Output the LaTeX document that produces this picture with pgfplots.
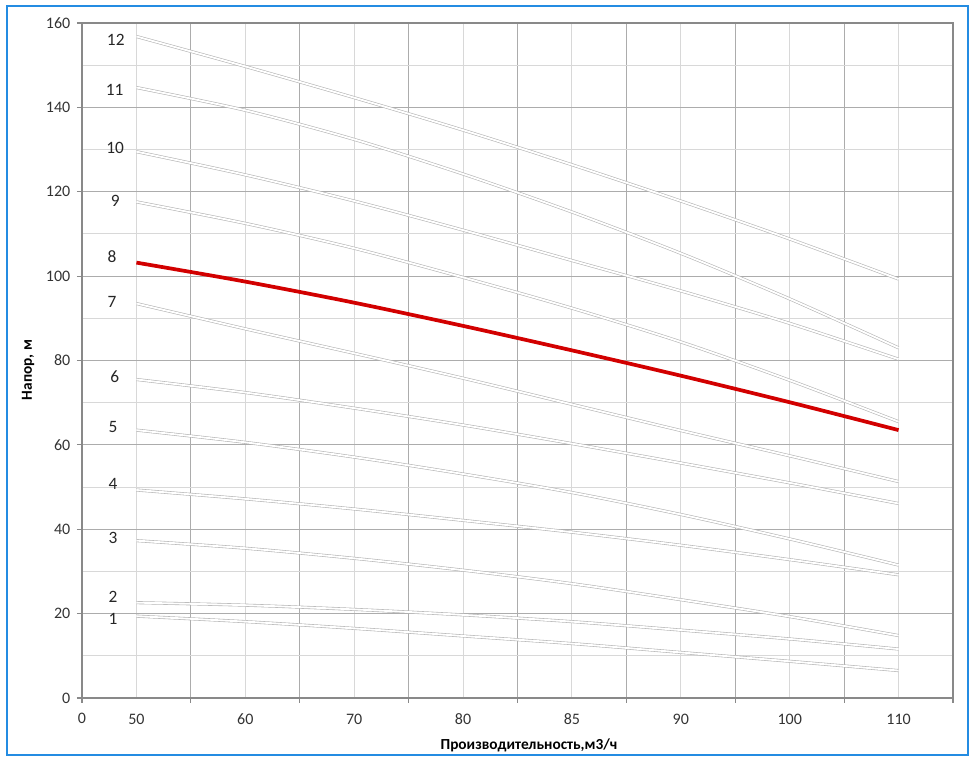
\documentclass[border=0pt]{standalone}
\usepackage{fontspec}
\setmainfont{Carlito}
\usepackage{pgfplots}
\pgfplotsset{compat=1.18}
\definecolor{majgrid}{RGB}{172,172,172}
\definecolor{mingrid}{RGB}{216,216,216}
\definecolor{axisgray}{RGB}{137,137,137}
\definecolor{curvegray}{RGB}{180,180,180}
\definecolor{redline}{RGB}{210,0,0}
\definecolor{frameblue}{RGB}{36,140,226}
\pgfplotsset{
  pump/.style={smooth, tension=0.5, draw=curvegray, line width=0.45pt, double=white, double distance=1.4pt, mark=none},
}
\begin{document}
\begin{tikzpicture}
\useasboundingbox (-61.5pt,-48.75pt) rectangle (671.25pt,523.5pt);
\draw[frameblue, line width=1.6pt] (-56.25pt,-42.75pt) rectangle (664.5pt,519pt);
\begin{axis}[
  at={(0pt,0pt)}, anchor=south west,
  scale only axis, width=653.25pt, height=506.25pt,
  xmin=0, xmax=16, ymin=0, ymax=160,
  xtick={0,2,...,16}, xticklabels={0,,,,,,,,},
  minor xtick={1,3,...,15},
  xticklabel style={yshift=-4pt},
  extra x ticks={1,3,5,7,9,11,13,15},
  extra x tick labels={50,60,70,80,85,90,100,110},
  extra x tick style={grid=none, major tick length=0pt, xticklabel style={yshift=-4.5pt}},
  ytick={0,20,...,160}, minor ytick={10,30,...,150},
  yticklabel style={xshift=-1.5pt},
  grid=both,
  major grid style={majgrid, line width=0.7pt},
  minor grid style={mingrid, line width=0.7pt},
  tick align=outside, major tick length=3.75pt, minor tick length=0pt,
  xtick pos=bottom, ytick pos=left,
  axis line style={axisgray, line width=0.8pt},
  tick style={axisgray, line width=0.8pt},
  ticklabel style={font=\fontsize{12}{14}\selectfont, text=black!80},
  /pgf/number format/assume math mode=true,
  clip=false,
]
\addplot[pump] coordinates {(1,19.4)(3,18.1)(5,16.5)(7,14.7)(9,12.9)(11,10.8)(13,8.7)(15,6.5)};
\addplot[pump] coordinates {(1,22.6)(3,22.0)(5,21.0)(7,19.7)(9,18.1)(11,16.1)(13,14.0)(15,11.6)};
\addplot[pump] coordinates {(1,37.3)(3,35.5)(5,33.1)(7,30.3)(9,27.1)(11,23.3)(13,19.3)(15,14.8)};
\addplot[pump] coordinates {(1,49.3)(3,47.2)(5,44.8)(7,42.1)(9,39.3)(11,36.2)(13,32.8)(15,29.2)};
\addplot[pump] coordinates {(1,63.5)(3,60.6)(5,57.1)(7,53.1)(9,48.7)(11,43.5)(13,37.7)(15,31.5)};
\addplot[pump] coordinates {(1,75.5)(3,72.4)(5,68.7)(7,64.7)(9,60.3)(11,55.7)(13,51.0)(15,46.1)};
\addplot[pump] coordinates {(1,93.5)(3,87.5)(5,81.7)(7,75.8)(9,69.6)(11,63.4)(13,57.4)(15,51.3)};
\addplot[pump] coordinates {(1,117.6)(3,112.5)(5,106.6)(7,99.7)(9,92.4)(11,84.4)(13,75.3)(15,65.5)};
\addplot[pump] coordinates {(1,129.5)(3,124.0)(5,117.8)(7,110.9)(9,103.7)(11,96.5)(13,88.8)(15,80.3)};
\addplot[pump] coordinates {(1,144.7)(3,139.3)(5,132.4)(7,124.2)(9,115.2)(11,105.4)(13,94.6)(15,83.0)};
\addplot[pump] coordinates {(1,156.8)(3,149.7)(5,142.3)(7,134.6)(9,126.4)(11,117.8)(13,108.8)(15,99.3)};
\addplot[smooth, tension=0.5, redline, line width=2.8pt, mark=none] coordinates {(1,103.2)(3,98.7)(5,93.7)(7,88.2)(9,82.4)(11,76.4)(13,70.1)(15,63.5)};
\begin{scope}[every node/.style={font=\fontsize{13}{15}\selectfont, text=black!85}]
\node at (axis cs:0.62,156.0) {12};
\node at (axis cs:0.60,144.1) {11};
\node at (axis cs:0.61,130.3) {10};
\node at (axis cs:0.61,117.8) {9};
\node at (axis cs:0.55,104.5) {8};
\node at (axis cs:0.55,93.9) {7};
\node at (axis cs:0.60,76.1) {6};
\node at (axis cs:0.57,64.2) {5};
\node at (axis cs:0.57,50.7) {4};
\node at (axis cs:0.57,37.9) {3};
\node at (axis cs:0.57,23.9) {2};
\node at (axis cs:0.57,18.7) {1};
\end{scope}
\end{axis}
\node[font=\fontsize{11.5}{13}\selectfont\bfseries] at (335.25pt,-35.25pt) {Производительность,м3/ч};
\node[font=\fontsize{11.5}{13}\selectfont\bfseries, rotate=90] at (-40.5pt,246pt) {Напор, м};
\end{tikzpicture}
\end{document}
